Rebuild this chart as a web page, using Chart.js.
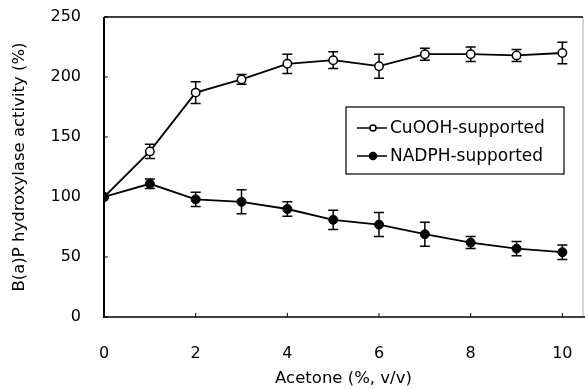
<!DOCTYPE html>
<html lang="en">
<head>
<meta charset="UTF-8">
<script src="https://cdn.jsdelivr.net/npm/chart.js"></script>
<style>
    html, body { margin: 0; padding: 0; background: #fff; }
</style>
<title>B(a)P hydroxylase activity</title>
</head>
<body>
<canvas id="activityChart" width="585" height="389"></canvas>
<script>
    // values
    const acetone = [0, 1, 2, 3, 4, 5, 6, 7, 8, 9, 10];
    const cuoohMean = [100, 138, 187, 198, 211, 214, 209, 219, 219, 218, 220];
    const cuoohErr = [0, 6, 9, 4, 8, 7, 10, 5, 6, 5, 9];
    const nadphMean = [100, 111, 98, 96, 90, 81, 77, 69, 62, 57, 54];
    const nadphErr = [0, 4, 6, 10, 6, 8, 10, 10, 5, 6, 6];
    const xTicks = [0, 2, 4, 6, 8, 10];
    const yTicks = [0, 50, 100, 150, 200, 250];

    const FONT = 'DejaVu Sans';

    // error bars, frame, inward ticks and the boxed legend
    const extras = {
        id: 'extras',
        beforeDatasetsDraw(chart) {
            const { ctx, scales: { x, y } } = chart;
            ctx.save();
            ctx.strokeStyle = '#000';
            ctx.lineWidth = 1.5;
            [[cuoohMean, cuoohErr], [nadphMean, nadphErr]].forEach(([m, e]) => {
                acetone.forEach((a, i) => {
                    if (!e[i]) return;
                    const px = x.getPixelForValue(a);
                    const hi = y.getPixelForValue(m[i] + e[i]);
                    const lo = y.getPixelForValue(m[i] - e[i]);
                    ctx.beginPath();
                    ctx.moveTo(px, hi); ctx.lineTo(px, lo);
                    ctx.moveTo(px - 5, hi); ctx.lineTo(px + 5, hi);
                    ctx.moveTo(px - 5, lo); ctx.lineTo(px + 5, lo);
                    ctx.stroke();
                });
            });
            ctx.restore();
        },
        afterDraw(chart) {
            const { ctx, chartArea: a, scales: { x, y } } = chart;
            ctx.save();
            // right edge is faint in the scan
            ctx.strokeStyle = '#aaa';
            ctx.lineWidth = 1;
            ctx.beginPath(); ctx.moveTo(a.right, a.top); ctx.lineTo(a.right, a.bottom); ctx.stroke();

            ctx.strokeStyle = '#000';
            ctx.lineWidth = 1.5;
            ctx.beginPath();
            ctx.moveTo(a.left, a.top); ctx.lineTo(a.right, a.top);
            ctx.moveTo(a.left, a.bottom); ctx.lineTo(a.right + 2, a.bottom);
            ctx.stroke();
            ctx.lineWidth = 2;
            ctx.beginPath(); ctx.moveTo(a.left, a.top); ctx.lineTo(a.left, a.bottom + 1); ctx.stroke();

            ctx.lineWidth = 1;
            ctx.beginPath();
            xTicks.forEach(v => {
                const px = x.getPixelForValue(v);
                ctx.moveTo(px, a.bottom); ctx.lineTo(px, a.bottom - 4);
            });
            yTicks.forEach(v => {
                const py = y.getPixelForValue(v);
                ctx.moveTo(a.left, py); ctx.lineTo(a.left + 4, py);
            });
            ctx.stroke();

            // legend
            ctx.lineWidth = 1.2;
            ctx.strokeRect(346, 107, 218, 67);
            const rows = [
                { label: chart.data.datasets[1].label, y: 128, fill: '#fff', r: 3 },
                { label: chart.data.datasets[0].label, y: 156, fill: '#000', r: 3.5 }
            ];
            ctx.font = '17px "' + FONT + '"';
            ctx.textBaseline = 'middle';
            ctx.fillStyle = '#000';
            rows.forEach(row => {
                ctx.lineWidth = 1.5;
                ctx.beginPath(); ctx.moveTo(357, row.y); ctx.lineTo(387, row.y); ctx.stroke();
                ctx.beginPath(); ctx.arc(373, row.y, row.r, 0, Math.PI * 2);
                ctx.fillStyle = row.fill; ctx.fill(); ctx.stroke();
                ctx.fillStyle = '#000';
                ctx.fillText(row.label, 390, row.y + 1);
            });
            ctx.restore();
        }
    };

    const ctx = document.getElementById('activityChart').getContext('2d');
    new Chart(ctx, {
        type: 'line',
        data: {
            datasets: [{
                label: 'NADPH-supported',
                data: acetone.map((v, i) => ({ x: v, y: nadphMean[i] })),
                borderColor: '#000',
                borderWidth: 1.8,
                pointRadius: 4.5,
                pointBackgroundColor: '#000',
                pointBorderColor: '#000',
                pointBorderWidth: 1,
                tension: 0
            }, {
                label: 'CuOOH-supported',
                data: acetone.map((v, i) => ({ x: v, y: cuoohMean[i] })),
                borderColor: '#000',
                borderWidth: 1.8,
                pointRadius: 4.2,
                pointBackgroundColor: '#fff',
                pointBorderColor: '#000',
                pointBorderWidth: 1.5,
                tension: 0
            }]
        },
        options: {
            responsive: false,
            animation: false,
            layout: { autoPadding: false, padding: { top: 17, right: 2, left: 0, bottom: 0 } },
            plugins: { legend: { display: false }, tooltip: { enabled: false } },
            scales: {
                x: {
                    type: 'linear',
                    min: 0,
                    max: 10.45,
                    afterBuildTicks: s => { s.ticks = xTicks.map(v => ({ value: v })); },
                    afterFit: s => { s.height = 72; s.paddingLeft = 0; s.paddingRight = 0; },
                    grid: { display: false },
                    border: { display: false },
                    ticks: { color: '#000', padding: 19, maxRotation: 0, font: { family: FONT, size: 16 } },
                    title: {
                        display: true,
                        text: 'Acetone (%, v/v)',
                        color: '#000',
                        padding: { top: 0, bottom: 0 },
                        font: { family: FONT, size: 16.5 }
                    }
                },
                y: {
                    min: 0,
                    max: 250,
                    afterBuildTicks: s => { s.ticks = yTicks.map(v => ({ value: v })); },
                    afterFit: s => { s.width = 104; s.paddingTop = 0; s.paddingBottom = 0; },
                    grid: { display: false },
                    border: { display: false },
                    ticks: { color: '#000', padding: 15, font: { family: FONT, size: 16 } },
                    title: {
                        display: true,
                        text: 'B(a)P hydroxylase activity (%)',
                        color: '#000',
                        padding: { top: 9.5, bottom: 0 },
                        font: { family: FONT, size: 16.5 }
                    }
                }
            }
        },
        plugins: [extras]
    });
</script>
</body>
</html>
